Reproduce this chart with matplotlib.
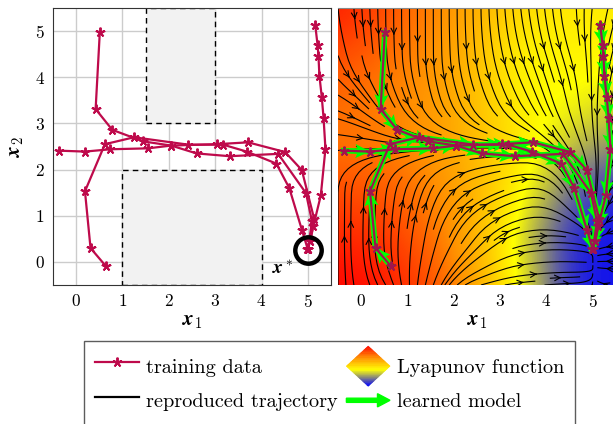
import numpy as np
import matplotlib
matplotlib.use("Agg")
import matplotlib.pyplot as plt
from matplotlib.colors import LinearSegmentedColormap
from matplotlib.lines import Line2D
from matplotlib.patches import Polygon, FancyArrow, Rectangle
from matplotlib.legend_handler import HandlerBase

plt.rcParams['font.family'] = ['cmr10', 'DejaVu Serif']
plt.rcParams['mathtext.fontset'] = 'cm'
plt.rcParams['axes.formatter.use_mathtext'] = True

# training trajectories (x1, x2)
traj1_x = [0.51, 0.42, 0.78, 1.45, 2.05, 2.60, 3.31, 4.36, 4.96, 5.09, 5.00]
traj1_y = [4.97, 3.31, 2.86, 2.61, 2.52, 2.35, 2.29, 2.34, 1.49, 0.88, 0.27]
traj2_x = [-0.38, 0.19, 0.74, 1.55, 2.05, 3.03, 3.71, 4.51, 4.87, 5.14, 5.05, 5.00]
traj2_y = [2.41, 2.39, 2.44, 2.46, 2.52, 2.55, 2.59, 2.38, 1.99, 0.92, 0.45, 0.27]
traj3_x = [0.64, 0.31, 0.19, 0.62, 1.25, 2.42, 3.17, 3.68, 4.32, 4.60, 4.87, 5.00]
traj3_y = [-0.09, 0.30, 1.53, 2.55, 2.70, 2.54, 2.54, 2.39, 2.13, 1.60, 0.70, 0.27]
traj4_x = [5.16, 5.21, 5.23, 5.25, 5.30, 5.34, 5.38, 5.28, 5.12, 5.05, 4.98]
traj4_y = [5.13, 4.70, 4.45, 4.03, 3.58, 3.11, 2.45, 1.44, 0.78, 0.45, 0.27]
trajs = [(traj1_x, traj1_y), (traj2_x, traj2_y), (traj3_x, traj3_y), (traj4_x, traj4_y)]

target = (5.0, 0.25)
# obstacles: (x0, y0, width, height)
obstacles = [(1.5, 3.0, 1.5, 2.5), (1.0, -0.5, 3.0, 2.5)]

# coarse grid
grid_x = [-0.5, 0.5, 1.5, 2.5, 3.5, 4.5, 5.5]
grid_y = [-0.5, 0.5, 1.5, 2.5, 3.5, 4.5, 5.5]
# Lyapunov value (0 = blue, 1 = red), rows from bottom to top
lyap = [
    [1.00, 0.95, 0.85, 0.64, 0.38, 0.05, 0.03],
    [0.92, 0.90, 0.78, 0.60, 0.33, 0.05, 0.03],
    [0.85, 0.82, 0.73, 0.60, 0.42, 0.15, 0.05],
    [0.76, 0.74, 0.68, 0.58, 0.46, 0.30, 0.22],
    [0.78, 0.73, 0.68, 0.57, 0.42, 0.40, 0.35],
    [0.85, 0.78, 0.70, 0.57, 0.40, 0.43, 0.42],
    [0.95, 0.85, 0.74, 0.62, 0.50, 0.46, 0.45],
]
# flow directions, rows from bottom to top
flow_u = [
    [0.0, -0.4, 0.3, 1.0, 1.0, 1.0, -1.0],
    [0.0, 0.0, 0.2, 0.8, 1.0, 1.0, -1.0],
    [0.0, 0.1, 0.4, 1.0, 1.0, 0.5, -0.5],
    [1.0, 1.0, 1.0, 1.0, 1.0, 0.6, -0.3],
    [1.0, 0.5, 0.3, 0.4, 0.5, 0.2, -0.2],
    [0.3, 0.05, 0.0, 0.1, 0.3, 0.3, -0.3],
    [0.1, 0.0, 0.0, 0.0, 0.1, 0.1, -0.3],
]
flow_v = [
    [1.0, 0.6, 1.0, 0.3, 0.1, 0.05, 0.2],
    [1.0, 1.0, 1.0, 1.0, 0.2, -0.1, -0.2],
    [1.0, 1.0, 1.0, 0.5, 0.3, -1.0, -1.0],
    [0.0, -0.05, 0.0, 0.0, -0.1, -1.0, -1.0],
    [-0.5, -1.0, -1.0, -1.0, -1.0, -1.0, -1.0],
    [-1.0, -1.0, -1.0, -1.0, -1.0, -1.0, -1.0],
    [-1.0, -1.0, -1.0, -1.0, -1.0, -1.0, -1.0],
]

crimson = '#BE0A4B'
crimson_dark = '#A0154F'
lime = '#00FF00'
cmap = LinearSegmentedColormap.from_list(
    'lyap', [(0, '#0000FF'), (0.4, '#FFFF00'), (0.7, '#FF9000'), (1, '#FF0000')])

W, H = 613, 424
fig = plt.figure(figsize=(W / 100, H / 100), dpi=100)
ax1 = fig.add_axes([53 / W, 1 - 285 / H, 278 / W, 277 / H])
ax2 = fig.add_axes([338 / W, 1 - 285 / H, 278 / W, 277 / H])

xlab = r'$\mathbfit{x}_1$'
ylab = r'$\mathbfit{x}_2$'

# ---- left panel
for (x0, y0, w, h) in obstacles:
    ax1.add_patch(Rectangle((x0, y0), w, h, facecolor='#F2F2F2', edgecolor='k',
                            ls=(0, (4, 3)), lw=1.0, zorder=1))
for tx, ty in trajs:
    ax1.plot(tx, ty, color=crimson, lw=1.6, marker=(5, 2, 0), ms=7, mew=1.4, zorder=3)
ax1.plot(*target, marker='o', ms=19, mfc='none', mec='k', mew=3.2, zorder=4)
ax1.text(4.47, -0.17, r'$\mathbfit{x}^*$', fontsize=14, ha='center', va='center', zorder=5)
ax1.set_xlim(-0.5, 5.5)
ax1.set_ylim(-0.5, 5.5)
ax1.set_xticks(range(6))
ax1.set_yticks(range(6))
ax1.grid(True, color='#CCCCCC', lw=1.0, zorder=0)
ax1.set_axisbelow(True)
ax1.tick_params(length=0, labelsize=12.5, pad=6)
ax1.set_xlabel(xlab, fontsize=15, labelpad=2)
ax1.set_ylabel(ylab, fontsize=15, labelpad=6)
for s in ax1.spines.values():
    s.set_color('#333333')

# ---- right panel
ax2.imshow(lyap, origin='lower', extent=[-1, 6, -1, 6], cmap=cmap, vmin=0, vmax=1,
           interpolation='bicubic', aspect='auto', zorder=0)
ax2.streamplot(np.array(grid_x), np.array(grid_y), np.array(flow_u), np.array(flow_v),
               color='k', linewidth=0.8, density=1.2, arrowsize=1.0, arrowstyle='->',
               zorder=1)
for tx, ty in trajs:
    tx = np.array(tx)
    ty = np.array(ty)
    ax2.plot(tx, ty, color=lime, lw=4, zorder=2)
    ax2.quiver(tx[:-1], ty[:-1], np.diff(tx), np.diff(ty), angles='xy', scale_units='xy',
               scale=1, color=lime, width=0.015, headwidth=3.4, headlength=3.5,
               headaxislength=3, zorder=3)
for tx, ty in trajs:
    ax2.plot(tx, ty, color=crimson_dark, lw=1.6, marker=(5, 2, 0), ms=7, mew=1.4, zorder=4)
ax2.set_xlim(-0.5, 5.5)
ax2.set_ylim(-0.5, 5.5)
ax2.set_xticks(range(6))
ax2.set_yticks([])
ax2.tick_params(length=0, labelsize=12.5, pad=6)
ax2.set_xlabel(xlab, fontsize=15, labelpad=2)
for s in ax2.spines.values():
    s.set_visible(False)
ax2.spines['top'].set_visible(True)
ax2.spines['top'].set_color('#888888')


# ---- legend
class Lyap:
    pass


class Learned:
    pass


class DiamondHandler(HandlerBase):
    def create_artists(self, legend, orig_handle, xdescent, ydescent, width, height,
                       fontsize, trans):
        cx = width / 2 - xdescent
        cy = height / 2 - ydescent
        hw = width * 0.5
        hh = width * 0.46
        n = 30
        arts = []
        for i in range(n):
            y1 = cy + hh - 2 * hh * i / n
            y0 = cy + hh - 2 * hh * (i + 1) / n
            ys = [y0, cy, y1] if y0 < cy < y1 else [y0, y1]
            left = [(cx - hw * (1 - abs(y - cy) / hh), y) for y in ys]
            right = [(cx + hw * (1 - abs(y - cy) / hh), y) for y in ys[::-1]]
            c = cmap(1 - (i + 0.5) / n)
            p = Polygon(left + right, closed=True, facecolor=c, edgecolor=c, lw=0.5,
                        transform=trans)
            arts.append(p)
        return arts


class ArrowHandler(HandlerBase):
    def create_artists(self, legend, orig_handle, xdescent, ydescent, width, height,
                       fontsize, trans):
        y = height / 2 - ydescent
        a = FancyArrow(-xdescent, y, width, 0, width=3, head_width=9.5, head_length=9,
                       length_includes_head=True, color=lime, transform=trans)
        return [a]


handles = [
    Line2D([], [], color=crimson, lw=1.6, marker=(5, 2, 0), ms=7, mew=1.4, markevery=[1],
           label='training data'),
    Line2D([], [], color='k', lw=1.6, label='reproduced trajectory'),
    Lyap(),
    Learned(),
]
labels = ['training data', 'reproduced trajectory', 'Lyapunov function', 'learned model']
leg = fig.legend(handles, labels, ncol=2, loc='upper left', bbox_to_anchor=(84 / W, 1 - 341 / H),
                 fontsize=14.6, frameon=True, fancybox=False, edgecolor='#333333',
                 handlelength=2.15, handleheight=1.75, handletextpad=0.34, columnspacing=0.45,
                 labelspacing=0.3, borderpad=0.55, borderaxespad=0,
                 handler_map={Lyap: DiamondHandler(), Learned: ArrowHandler()})
leg.get_frame().set_linewidth(1.0)

fig.savefig('out.png', dpi=100)
